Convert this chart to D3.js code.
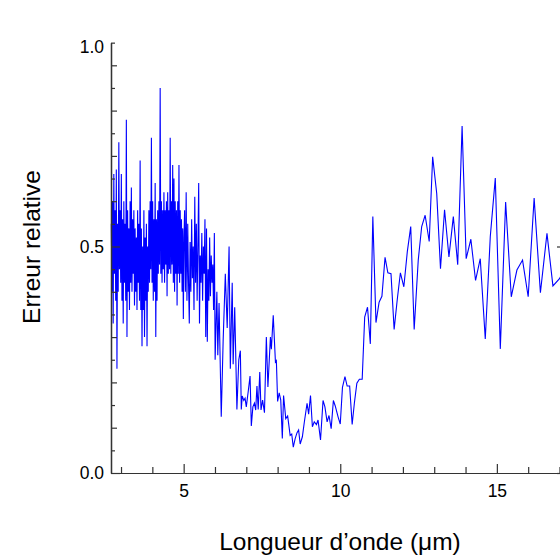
<!DOCTYPE html>
<html><head><meta charset="utf-8">
<script src="https://cdn.jsdelivr.net/npm/d3@7"></script>
<style>
html,body{margin:0;padding:0;background:#fff;overflow:hidden;}
svg{display:block;}
text{font-family:"Liberation Sans",Arial,sans-serif;fill:#000;}
</style></head>
<body>
<svg id="chart" width="560" height="555"></svg>
<script>
// Wavelength (µm) and relative error
const wavelength = [
2.69,2.71,2.73,2.75,2.77,2.79,2.81,2.83,2.85,2.87,2.89,2.91,2.93,2.95,2.97,2.99,
3.01,3.03,3.05,3.07,3.09,3.11,3.13,3.15,3.17,3.19,3.21,3.23,3.25,3.27,3.29,3.31,
3.33,3.35,3.37,3.39,3.41,3.43,3.45,3.47,3.49,3.51,3.53,3.55,3.57,3.59,3.61,3.63,
3.65,3.67,3.69,3.71,3.73,3.75,3.77,3.79,3.81,3.83,3.85,3.87,3.89,3.91,3.93,3.95,
3.97,3.99,4.01,4.03,4.05,4.07,4.09,4.11,4.13,4.15,4.17,4.19,4.21,4.23,4.25,4.27,
4.29,4.31,4.33,4.35,4.37,4.39,4.41,4.43,4.45,4.47,4.49,4.51,4.53,4.55,4.57,4.59,
4.61,4.63,4.65,4.67,4.69,4.71,4.73,4.75,4.77,4.79,4.81,4.83,4.85,4.87,4.89,4.91,
4.93,4.95,4.97,4.99,5.01,
5.03,5.055,5.08,5.105,5.13,5.155,5.18,5.205,5.23,5.255,5.28,5.305,5.33,5.355,5.38,
5.405,5.43,5.455,5.48,5.505,5.53,5.555,5.58,5.605,5.63,5.655,5.68,5.705,5.73,5.755,
5.78,5.805,5.83,5.855,5.88,5.905,5.93,5.955,5.98,6.005,
6.03,6.06,6.09,6.13,6.20,6.26,6.33,6.39,6.45,6.49,6.55,6.58,6.63,6.70,6.76,6.81,
6.84,6.87,6.92,6.96,7.00,7.07,7.12,7.16,7.21,7.26,7.30,7.34,7.38,7.43,7.47,7.52,
7.58,7.64,7.69,7.77,7.80,7.86,7.93,7.96,8.00,8.05,8.10,8.15,8.19,8.26,8.32,8.40,
8.45,8.50,8.56,8.62,8.67,8.72,8.79,8.85,8.94,8.99,9.05,9.11,9.17,9.24,9.29,9.37,
9.45,9.51,9.58,9.64,9.71,9.78,9.84,9.93,10.00,10.07,10.15,10.22,10.30,10.38,10.45,
10.53,10.61,10.70,10.78,10.87,10.96,11.04,11.14,11.24,11.33,11.43,11.52,11.62,11.72,
11.82,11.92,12.03,12.14,12.25,12.36,12.49,12.60,12.71,12.84,12.95,13.08,13.20,13.33,
13.47,13.61,13.75,13.89,14.02,14.17,14.32,14.47,14.63,14.79,14.95,15.11,15.28,15.46,
15.64,15.82,16.00,16.19,16.39,16.60,16.79,17.00,17.22
];
const relError = [
0.55,0.40,0.60,0.33,0.66,0.44,0.58,0.38,0.67,0.23,0.55,0.40,0.73,0.45,0.58,0.42,
0.66,0.38,0.56,0.33,0.60,0.42,0.55,0.38,0.78,0.30,0.58,0.40,0.54,0.36,0.60,0.42,
0.63,0.40,0.56,0.44,0.58,0.37,0.54,0.40,0.52,0.36,0.58,0.42,0.55,0.38,0.69,0.36,
0.54,0.28,0.50,0.36,0.58,0.30,0.52,0.38,0.55,0.28,0.50,0.40,0.58,0.42,0.60,0.45,
0.74,0.42,0.60,0.38,0.56,0.40,0.64,0.30,0.56,0.38,0.58,0.44,0.60,0.46,0.85,0.44,
0.60,0.42,0.58,0.45,0.62,0.42,0.58,0.46,0.60,0.39,0.62,0.44,0.58,0.45,0.74,0.44,
0.60,0.46,0.68,0.42,0.65,0.40,0.60,0.44,0.58,0.37,0.60,0.44,0.68,0.42,0.58,0.44,
0.56,0.40,0.54,0.34,0.52,
0.58,0.40,0.62,0.38,0.55,0.42,0.33,0.51,0.40,0.56,0.43,0.50,0.36,0.61,0.42,
0.55,0.38,0.50,0.64,0.33,0.48,0.42,0.53,0.38,0.50,0.44,0.56,0.30,0.54,0.29,
0.45,0.38,0.52,0.39,0.48,0.42,0.46,0.36,0.53,0.25,
0.32,0.40,0.26,0.375,0.124,0.29,0.44,0.32,0.50,0.23,0.42,0.24,0.366,0.14,0.25,0.27,
0.14,0.17,0.16,0.165,0.146,0.185,0.214,0.104,0.146,0.154,0.139,0.192,0.14,0.223,0.139,0.161,
0.133,0.30,0.19,0.30,0.273,0.348,0.245,0.248,0.158,0.177,0.161,0.076,0.171,0.12,0.126,0.083,
0.086,0.057,0.076,0.089,0.095,0.064,0.08,0.111,0.154,0.13,0.171,0.102,0.113,0.107,0.117,0.073,
0.16,0.146,0.113,0.127,0.098,0.16,0.148,0.124,0.108,0.189,0.213,0.192,0.192,0.107,0.154,
0.198,0.207,0.207,0.344,0.366,0.285,0.566,0.332,0.377,0.39,0.476,0.442,0.44,0.317,
0.383,0.442,0.411,0.488,0.544,0.317,0.47,0.544,0.569,0.511,0.698,0.617,0.451,0.581,
0.477,0.566,0.46,0.766,0.473,0.516,0.425,0.473,0.296,0.522,0.651,0.274,0.598,0.389,
0.448,0.47,0.389,0.607,0.398,0.529,0.413,0.429,0.46
];
const xMajorTicks = [5, 10, 15];
const xMinorTicks = [3,4,6,7,8,9,11,12,13,14,16,17];
const yMajorTicks = [0.0, 0.5];
const yMajorLabels = ["0.0", "0.5"];
const yTopTick = 0.95;          // top tick of the axis, printed "1.0"
const yTopLabel = "1.0";
const yMinorTicks = [0.1,0.2,0.3,0.4,0.6,0.7,0.8,0.9];
const yFineTicks = [0.05,0.15,0.25,0.35,0.45,0.55,0.65,0.75,0.85,0.95];
const xTitle = "Longueur d\u2019onde (\u03BCm)";
const yTitle = "Erreur relative";

(function(){
const svg = d3.select("#chart");
const pL = 111, pR = 566, pB = 473, pxPerUnitY = 453, pxPerUnitX = 31.32;
const yTop = 0.95;
const x = d3.scaleLinear().domain([2.68, 2.68 + (pR-pL)/pxPerUnitX]).range([pL, pR]);
const y = d3.scaleLinear().domain([0, yTop]).range([pB, pB - yTop*pxPerUnitY]);

const data = wavelength.map((w,i)=>({w, e: relError[i]}));

svg.append("path")
  .datum(data)
  .attr("fill","none")
  .attr("stroke","#0000ff")
  .attr("stroke-width",1.1)
  .attr("d", d3.line().x(d=>x(d.w)).y(d=>y(d.e)));

const FONT = '"Liberation Sans",Arial,sans-serif';
function styleAxis(g){
  g.select(".domain").attr("stroke","#333").attr("stroke-width",1.2);
  g.selectAll(".tick line").attr("stroke","#333").attr("stroke-width",1.2);
  g.selectAll(".tick text").style("font-size","17.5px").style("font-family",FONT);
}

const gxMinor = svg.append("g").attr("transform",`translate(0,${pB})`)
  .call(d3.axisBottom(x).tickValues(xMinorTicks).tickSizeInner(-6).tickSizeOuter(0).tickFormat(""));
styleAxis(gxMinor);
const gx = svg.append("g").attr("transform",`translate(0,${pB})`)
  .call(d3.axisBottom(x).tickValues(xMajorTicks).tickSizeInner(-9).tickSizeOuter(0).tickPadding(12).tickFormat(d3.format("d")));
styleAxis(gx);

const gyFine = svg.append("g").attr("transform",`translate(${pL},0)`)
  .call(d3.axisLeft(y).tickValues(yFineTicks).tickSizeInner(-4).tickSizeOuter(0).tickFormat(""));
styleAxis(gyFine);
const gyMinor = svg.append("g").attr("transform",`translate(${pL},0)`)
  .call(d3.axisLeft(y).tickValues(yMinorTicks).tickSizeInner(-6).tickSizeOuter(0).tickFormat(""));
styleAxis(gyMinor);
const gy = svg.append("g").attr("transform",`translate(${pL},0)`)
  .call(d3.axisLeft(y).tickValues(yMajorTicks).tickSizeInner(-9).tickSizeOuter(0).tickPadding(7)
        .tickFormat((d,i)=>yMajorLabels[i]));
styleAxis(gy);
const gyTop = svg.append("g").attr("transform",`translate(${pL},0)`)
  .call(d3.axisLeft(y).tickValues([yTopTick]).tickSizeInner(0).tickSizeOuter(0).tickPadding(7)
        .tickFormat(()=>yTopLabel));
styleAxis(gyTop);
gyTop.select(".domain").remove();
gyTop.selectAll(".tick text").attr("dy","0.55em");

const gr = svg.append("g").attr("transform",`translate(${pR},0)`)
  .call(d3.axisRight(y).tickValues(yMajorTicks).tickSizeInner(-9).tickSizeOuter(0).tickFormat(""));
styleAxis(gr);

svg.append("text")
  .attr("x", 340).attr("y", 550)
  .attr("text-anchor","middle")
  .style("font-size","24.5px")
  .text(xTitle);
svg.append("text")
  .attr("transform","translate(40,247) rotate(-90)")
  .attr("text-anchor","middle")
  .style("font-size","24.5px")
  .text(yTitle);
})();
</script>
</body></html>
